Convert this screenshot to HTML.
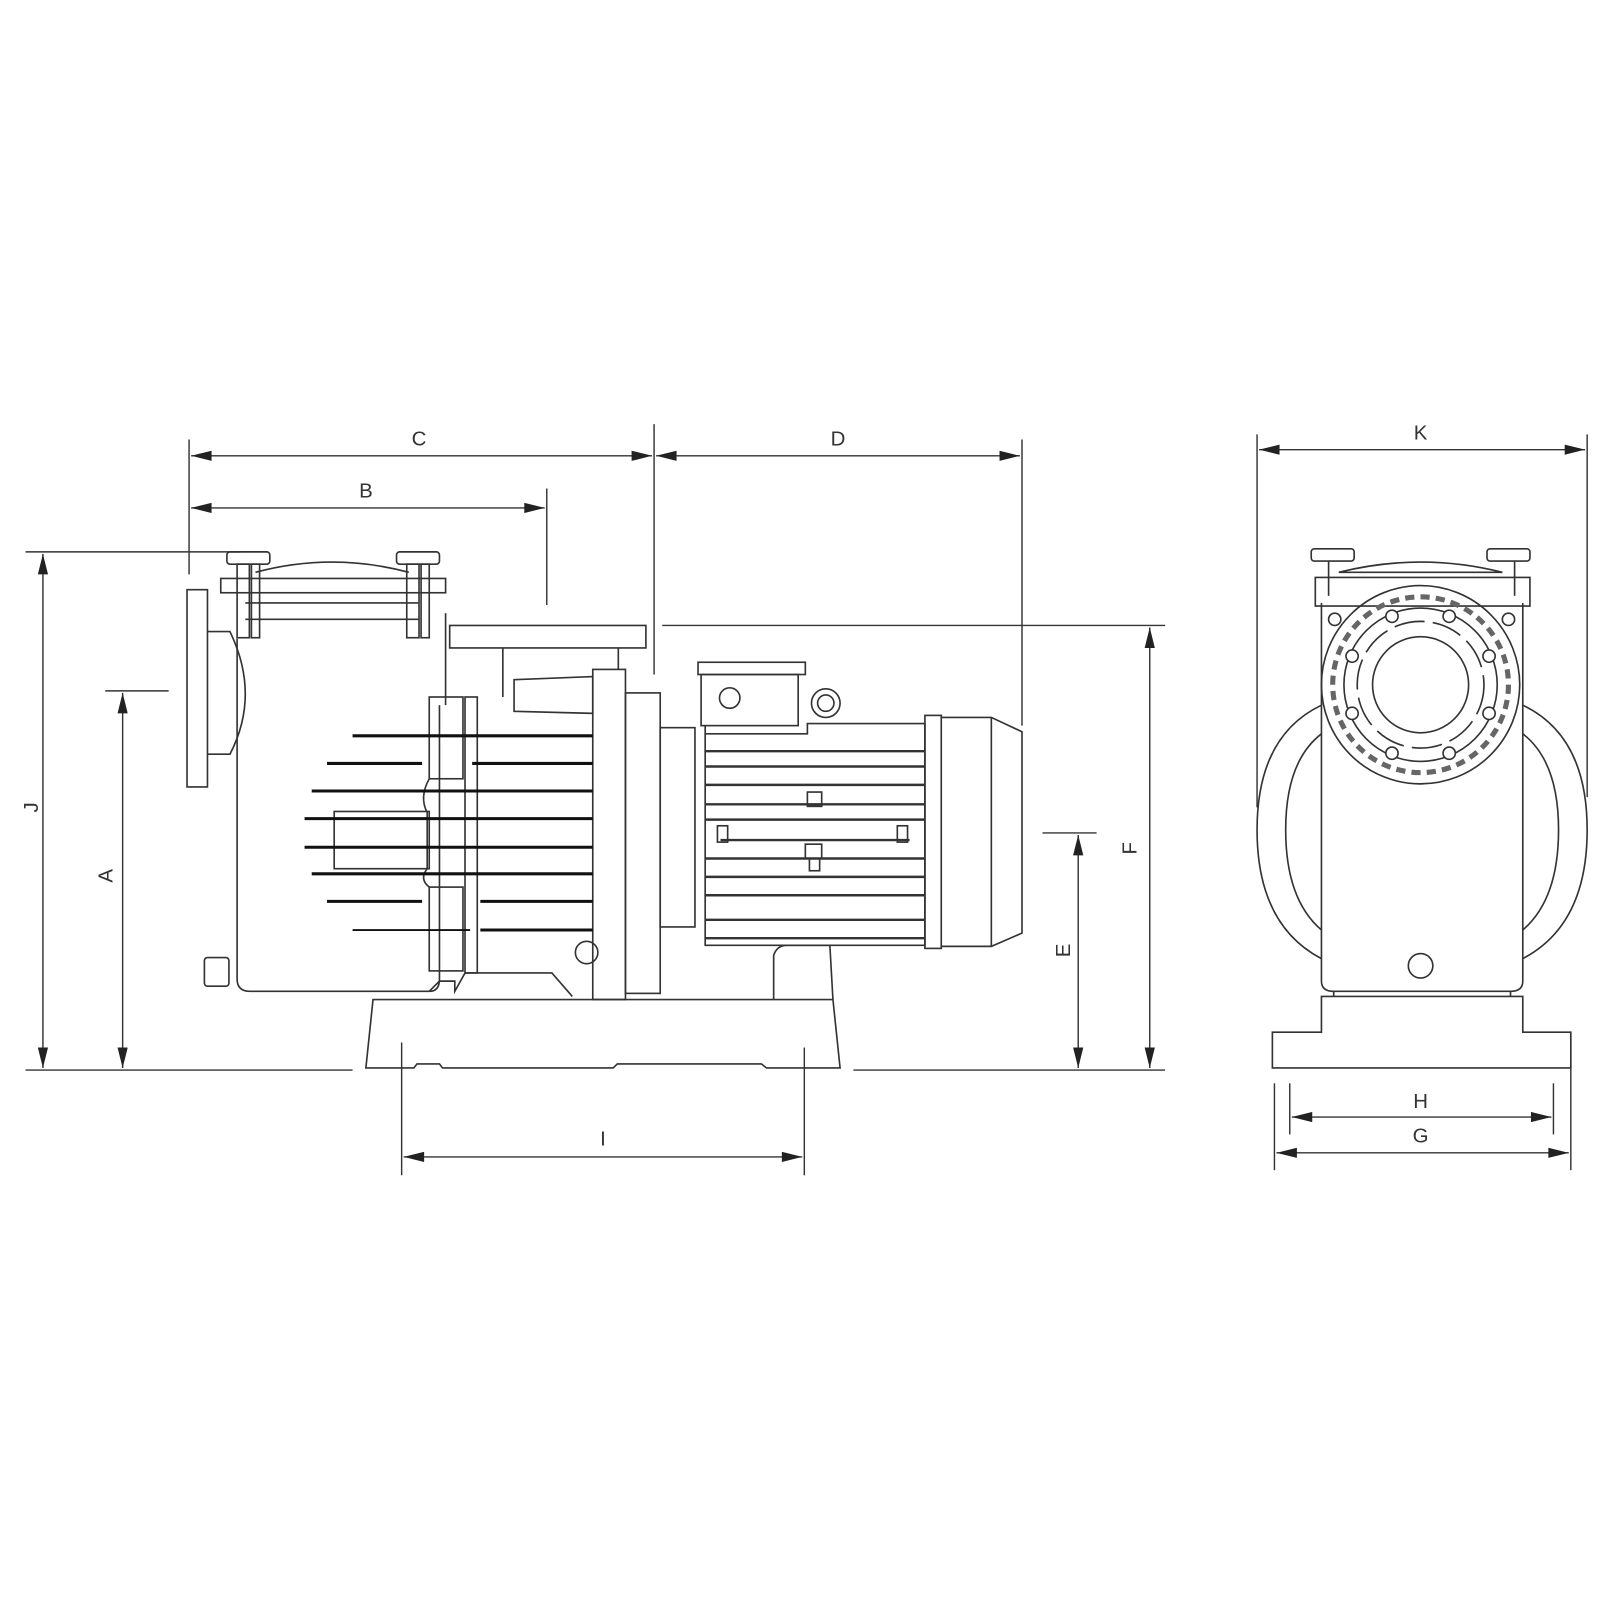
<!DOCTYPE html>
<html><head><meta charset="utf-8"><style>
html,body{margin:0;padding:0;background:#fff;}
svg{display:block;}
text{font-family:"Liberation Sans",sans-serif;font-size:20px;fill:#333;}
</style></head><body>
<svg width="1600" height="1600" viewBox="0 0 1600 1600" xmlns="http://www.w3.org/2000/svg">
<defs>
<marker id="a" viewBox="0 0 12 6" refX="12" refY="3" markerWidth="32" markerHeight="10" markerUnits="userSpaceOnUse" orient="auto-start-reverse"><path d="M0,0 L12,3 L0,6 z" fill="#222"/></marker>
</defs>
<rect width="1600" height="1600" fill="#fff"/>
<g transform="scale(1.022)" fill="none" stroke="#333" stroke-width="1.6">
<g stroke-width="1.4">
<line x1="185" y1="430" x2="185" y2="562"/>
<line x1="640" y1="415" x2="640" y2="660"/>
<line x1="1000" y1="430" x2="1000" y2="710"/>
<line x1="535" y1="478" x2="535" y2="592"/>
<line x1="187" y1="446" x2="638" y2="446" marker-start="url(#a)" marker-end="url(#a)"/>
<line x1="642" y1="446" x2="998" y2="446" marker-start="url(#a)" marker-end="url(#a)"/>
<line x1="187" y1="497" x2="533" y2="497" marker-start="url(#a)" marker-end="url(#a)"/>
<line x1="1230" y1="425" x2="1230" y2="790"/>
<line x1="1553" y1="425" x2="1553" y2="780"/>
<line x1="1232" y1="440" x2="1551" y2="440" marker-start="url(#a)" marker-end="url(#a)"/>
<line x1="25" y1="540" x2="235" y2="540"/>
<line x1="42" y1="542" x2="42" y2="1045" marker-start="url(#a)" marker-end="url(#a)"/>
<line x1="103" y1="676" x2="165" y2="676"/>
<line x1="120" y1="678" x2="120" y2="1045" marker-start="url(#a)" marker-end="url(#a)"/>
<line x1="1020" y1="815" x2="1073" y2="815"/>
<line x1="1055" y1="817" x2="1055" y2="1045" marker-start="url(#a)" marker-end="url(#a)"/>
<line x1="648" y1="612" x2="1140" y2="612"/>
<line x1="1125" y1="614" x2="1125" y2="1045" marker-start="url(#a)" marker-end="url(#a)"/>
<line x1="25" y1="1047" x2="345" y2="1047"/>
<line x1="835" y1="1047" x2="1140" y2="1047"/>
<line x1="393" y1="1020" x2="393" y2="1150"/>
<line x1="787" y1="1025" x2="787" y2="1150"/>
<line x1="395" y1="1132" x2="785" y2="1132" marker-start="url(#a)" marker-end="url(#a)"/>
<line x1="1247" y1="1060" x2="1247" y2="1145"/>
<line x1="1537" y1="1040" x2="1537" y2="1145"/>
<line x1="1262" y1="1060" x2="1262" y2="1110"/>
<line x1="1520" y1="1060" x2="1520" y2="1110"/>
<line x1="1264" y1="1093" x2="1518" y2="1093" marker-start="url(#a)" marker-end="url(#a)"/>
<line x1="1249" y1="1128" x2="1535" y2="1128" marker-start="url(#a)" marker-end="url(#a)"/>
</g>
<rect x="183" y="577" width="20" height="193"/>
<path d="M203,618 L225,618 Q255,680 225,738 L203,738"/>
<path d="M232,625 L232,958 Q232,970 245,970 L420,970 Q430,970 430,958 L430,690"/>
<line x1="436" y1="600" x2="436" y2="690"/>
<rect x="216" y="566" width="220" height="14"/>
<line x1="240" y1="590" x2="410" y2="590"/>
<line x1="240" y1="606" x2="410" y2="606"/>
<path d="M250,560 Q325,540 400,560"/>
<rect x="222" y="540" width="42" height="12" rx="3"/>
<rect x="388" y="540" width="42" height="12" rx="3"/>
<rect x="232" y="552" width="12" height="72"/><rect x="246" y="552" width="8" height="72"/>
<rect x="398" y="552" width="12" height="72"/><rect x="412" y="552" width="8" height="72"/>
<rect x="200" y="937" width="24" height="28" rx="3"/>
<rect x="440" y="612" width="192" height="22"/>
<line x1="492" y1="634" x2="492" y2="682"/>
<line x1="605" y1="634" x2="605" y2="655"/>
<rect x="420" y="682" width="33" height="80"/>
<rect x="420" y="868" width="33" height="82"/>
<rect x="455" y="682" width="12" height="270"/>
<path d="M503,665 L580,662 L580,698 L503,696 z"/>
<rect x="580" y="655" width="32" height="323"/>
<rect x="612" y="678" width="34" height="294"/>
<rect x="646" y="712" width="34" height="195"/>
<rect x="327" y="794" width="93" height="56"/>
<path d="M420,762 Q410,780 418,795 L418,850 Q410,860 420,868" />
<circle cx="574" cy="932" r="11"/>
<path d="M420,970 L430,960 L445,960 L445,970 L455,952 L540,952 L560,975"/>
<g stroke="#111" stroke-width="3">
<line x1="345" y1="720" x2="580" y2="720"/>
<line x1="320" y1="747" x2="413" y2="747"/><line x1="462" y1="747" x2="580" y2="747"/>
<line x1="305" y1="774" x2="580" y2="774"/>
<line x1="298" y1="801" x2="580" y2="801"/>
<line x1="298" y1="829" x2="580" y2="829"/>
<line x1="305" y1="855" x2="580" y2="855"/>
<line x1="320" y1="882" x2="413" y2="882"/><line x1="470" y1="882" x2="580" y2="882"/>
<line x1="345" y1="910" x2="460" y2="910" stroke-width="1.8"/><line x1="470" y1="910" x2="580" y2="910"/>
</g>
<path d="M365,978 L358,1045 L405,1045 L408,1041 L430,1041 L433,1045 L600,1045 L604,1041 L745,1041 L750,1045 L822,1045 L815,978 z"/>
<path d="M757,978 L757,935 Q760,925 770,925 L812,925 L815,978"/>
<rect x="683" y="648" width="105" height="12"/>
<rect x="686" y="660" width="95" height="50"/>
<circle cx="714" cy="683" r="10"/>
<circle cx="808" cy="688" r="14"/><circle cx="808" cy="688" r="8"/>
<path d="M690,710 L690,925 L905,925 L905,708 L790,708 L790,718 L690,718"/>
<g stroke-width="2.4">
<line x1="690" y1="735" x2="905" y2="735"/>
<line x1="690" y1="750" x2="905" y2="750"/>
<line x1="690" y1="768" x2="905" y2="768"/>
<line x1="690" y1="787" x2="905" y2="787"/>
<line x1="690" y1="802" x2="905" y2="802"/>
<line x1="705" y1="822" x2="890" y2="822"/>
<line x1="690" y1="840" x2="905" y2="840"/>
<line x1="690" y1="858" x2="905" y2="858"/>
<line x1="690" y1="876" x2="905" y2="876"/>
<line x1="690" y1="900" x2="905" y2="900"/>
<line x1="690" y1="918" x2="905" y2="918"/>
</g>
<rect x="702" y="808" width="10" height="16"/><rect x="878" y="808" width="10" height="16"/>
<rect x="790" y="775" width="14" height="14"/><rect x="788" y="826" width="16" height="14"/><rect x="792" y="840" width="10" height="12"/>
<rect x="905" y="700" width="16" height="228"/>
<path d="M921,702 L970,702 L1000,716 L1000,913 L970,926 L921,926"/>
<line x1="970" y1="702" x2="970" y2="926"/>
<!-- right view -->
<path d="M1293,690 Q1230,720 1230,812 Q1230,905 1293,938"/>
<path d="M1293,718 Q1258,745 1258,812 Q1258,880 1293,910"/>
<path d="M1490,690 Q1553,720 1553,812 Q1553,905 1490,938"/>
<path d="M1490,718 Q1525,745 1525,812 Q1525,880 1490,910"/>
<path d="M1293,590 L1293,960 Q1293,970 1305,970 L1478,970 Q1490,970 1490,960 L1490,590"/>
<rect x="1287" y="565" width="210" height="28"/>
<path d="M1310,560 Q1390,540 1470,560"/>
<line x1="1310" y1="560" x2="1470" y2="560"/>
<rect x="1283" y="537" width="42" height="12" rx="3"/><rect x="1455" y="537" width="42" height="12" rx="3"/>
<line x1="1300" y1="549" x2="1300" y2="583"/><line x1="1482" y1="549" x2="1482" y2="583"/>
<circle cx="1306" cy="606" r="6"/><circle cx="1476" cy="606" r="6"/>
<circle cx="1390" cy="670" r="97"/>
<circle cx="1390" cy="670" r="75"/>
<circle cx="1390" cy="670" r="62" stroke-dasharray="30,8"/>
<circle cx="1390" cy="670" r="47"/>
<circle cx="1390" cy="670" r="86" stroke-dasharray="9,6" stroke-width="5" stroke="#666"/>
<g fill="#fff">
<circle cx="1362" cy="603" r="6"/><circle cx="1418" cy="603" r="6"/>
<circle cx="1323" cy="642" r="6"/><circle cx="1457" cy="642" r="6"/>
<circle cx="1323" cy="698" r="6"/><circle cx="1457" cy="698" r="6"/>
<circle cx="1362" cy="737" r="6"/><circle cx="1418" cy="737" r="6"/>
</g>
<circle cx="1390" cy="945" r="12"/>
<path d="M1305,970 L1305,975 M1478,970 L1478,975"/>
<path d="M1245,1045 L1245,1010 L1293,1010 L1293,975 L1490,975 L1490,1010 L1537,1010 L1537,1045 z"/>
</g>
<g transform="scale(1.022)">
<text x="410" y="436" text-anchor="middle">C</text>
<text x="820" y="436" text-anchor="middle">D</text>
<text x="358" y="487" text-anchor="middle">B</text>
<text x="1390" y="430" text-anchor="middle">K</text>
<text x="590" y="1121" text-anchor="middle">I</text>
<text x="1390" y="1084" text-anchor="middle">H</text>
<text x="1390" y="1118" text-anchor="middle">G</text>
<text transform="translate(37,790) rotate(-90)" text-anchor="middle">J</text>
<text transform="translate(110,857) rotate(-90)" text-anchor="middle">A</text>
<text transform="translate(1047,930) rotate(-90)" text-anchor="middle">E</text>
<text transform="translate(1112,830) rotate(-90)" text-anchor="middle">F</text>
</g>
</svg>
</body></html>
